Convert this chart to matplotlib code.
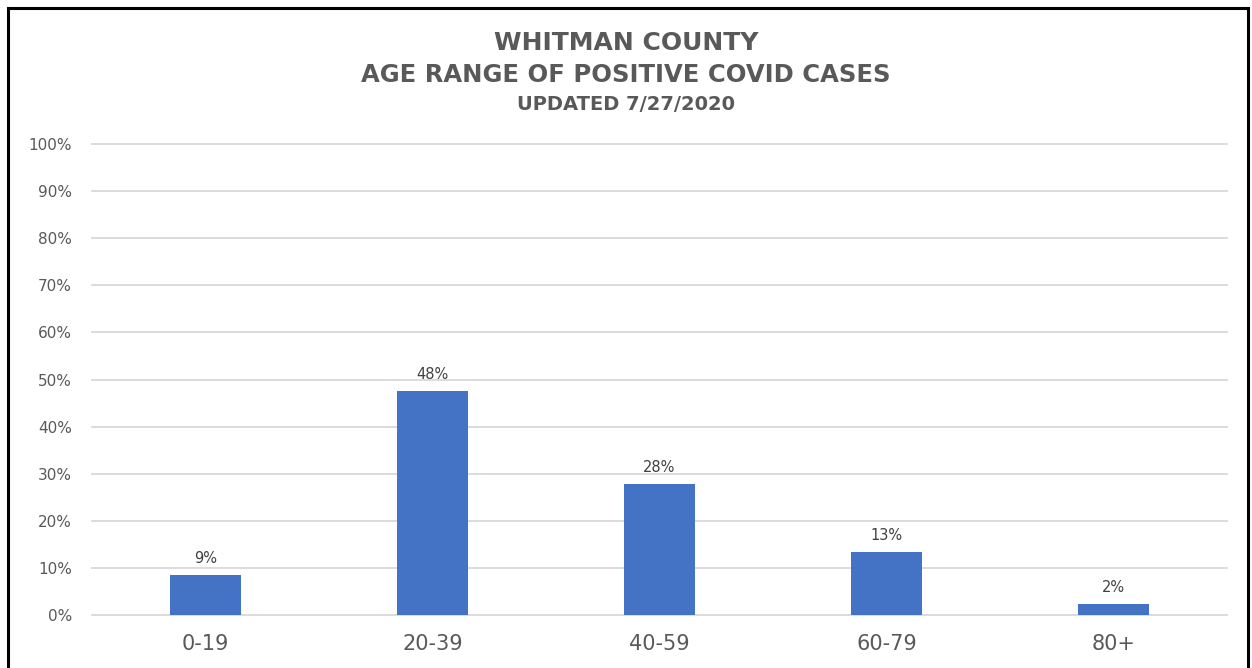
import matplotlib
matplotlib.use('Agg')
import matplotlib.pyplot as plt
from matplotlib.patches import Rectangle
from matplotlib.ticker import PercentFormatter

# values (share of positive cases)
age_ranges = ['0-19', '20-39', '40-59', '60-79', '80+']
shares = [0.086, 0.476, 0.279, 0.134, 0.024]
value_labels = ['9%', '48%', '28%', '13%', '2%']

GRAY = '#595959'
BLUE = '#4472C4'

fig = plt.figure(figsize=(12.52, 6.68), dpi=100)

# outer frame like the screenshot
fig.patches.append(Rectangle((8 / 1252, -0.05), 1240 / 1252, 1.05 - 8 / 668,
                             transform=fig.transFigure, fill=False,
                             edgecolor='black', linewidth=2.2))

ax = fig.add_axes([0.0735, 0.0793, 0.9065, 0.7051])
x = range(len(age_ranges))
bars = ax.bar(x, shares, width=0.31, color=BLUE, zorder=3)

for b, lab in zip(bars, value_labels):
    ax.text(b.get_x() + b.get_width() / 2, b.get_height() + 0.018, lab,
            ha='center', va='bottom', fontsize=10.5, color='#404040')

ax.set_xlim(-0.5, len(age_ranges) - 0.5)
ax.set_ylim(0, 1)
ax.set_yticks([i / 10 for i in range(11)])
ax.yaxis.set_major_formatter(PercentFormatter(1.0, decimals=0))
ax.set_xticks(list(x))
ax.set_xticklabels(age_ranges)
ax.grid(axis='y', color='#D9D9D9', linewidth=1.3, zorder=0)
for gl in ax.get_ygridlines():
    gl.set_clip_on(False)
ax.set_axisbelow(True)
for s in ax.spines.values():
    s.set_visible(False)
ax.tick_params(axis='both', length=0, colors=GRAY)
ax.tick_params(axis='y', labelsize=11, pad=14.5)
ax.tick_params(axis='x', labelsize=15, pad=14)

title_font = ['Liberation Sans Narrow', 'DejaVu Sans']
fig.text(0.5, 1 - 43 / 668, 'WHITMAN COUNTY', ha='center', va='center',
         fontsize=18, fontweight='bold', color=GRAY, family=title_font)
fig.text(0.5, 1 - 75 / 668, 'AGE RANGE OF POSITIVE COVID CASES', ha='center',
         va='center', fontsize=17.5, fontweight='bold', color=GRAY, family=title_font)
fig.text(0.5, 1 - 105 / 668, 'UPDATED 7/27/2020', ha='center', va='center',
         fontsize=14, fontweight='bold', color=GRAY, family=title_font)

fig.savefig('out.png', dpi=100)
